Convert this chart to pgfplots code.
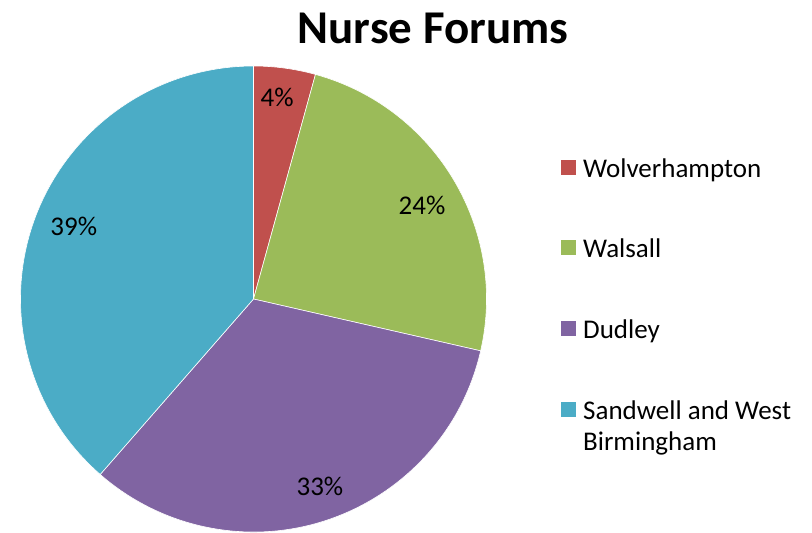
\documentclass[border=0pt]{standalone}
\usepackage{pgfplots}
\usepackage{pgfplotstable}
\pgfplotsset{compat=1.18}
\usetikzlibrary{calc}
\usepackage{fontspec}
\setmainfont{Carlito}

\definecolor{cWolv}{HTML}{C0504D}
\definecolor{cWals}{HTML}{9BBB59}
\definecolor{cDud}{HTML}{8064A2}
\definecolor{cSand}{HTML}{4BACC6}

\pgfplotstableread{
label count
Wolverhampton 3
Walsall 17
Dudley 23
Sandwell 27
}\piedata

\begin{document}
\begin{tikzpicture}
\pgfplotstablegetelem{0}{count}\of\piedata \let\cA\pgfplotsretval
\pgfplotstablegetelem{1}{count}\of\piedata \let\cB\pgfplotsretval
\pgfplotstablegetelem{2}{count}\of\piedata \let\cC\pgfplotsretval
\pgfplotstablegetelem{3}{count}\of\piedata \let\cD\pgfplotsretval
\pgfmathsetmacro\tot{\cA+\cB+\cC+\cD}
\pgfmathsetmacro\aA{90}
\pgfmathsetmacro\aB{\aA-360*\cA/\tot}
\pgfmathsetmacro\aC{\aB-360*\cB/\tot}
\pgfmathsetmacro\aD{\aC-360*\cC/\tot}
\pgfmathsetmacro\aE{\aD-360*\cD/\tot}
\pgfmathtruncatemacro\pA{round(100*\cA/\tot)}
\pgfmathtruncatemacro\pB{round(100*\cB/\tot)}
\pgfmathtruncatemacro\pC{round(100*\cC/\tot)}
\pgfmathtruncatemacro\pD{round(100*\cD/\tot)}
\pgfmathsetmacro\mA{(\aA+\aB)/2+1}
\pgfmathsetmacro\mB{(\aB+\aC)/2-1.7}
\pgfmathsetmacro\mC{(\aC+\aD)/2+1.5}
\pgfmathsetmacro\mD{(\aD+\aE)/2-1.5}
\begin{axis}[
  name=ax,
  width=812pt, height=533pt, scale only axis,
  xmin=0, xmax=812, ymin=0, ymax=533,
  hide axis, clip=false,
]
\def\cx{253.5}\def\cy{234}
\fill[cWolv, draw=white, line width=0.6pt] (axis cs:\cx,\cy) -- ++(\aA:233pt) arc[start angle=\aA, end angle=\aB, radius=233pt] -- cycle;
\fill[cWals, draw=white, line width=0.6pt] (axis cs:\cx,\cy) -- ++(\aB:233pt) arc[start angle=\aB, end angle=\aC, radius=233pt] -- cycle;
\fill[cDud, draw=white, line width=0.6pt] (axis cs:\cx,\cy) -- ++(\aC:233pt) arc[start angle=\aC, end angle=\aD, radius=233pt] -- cycle;
\fill[cSand, draw=white, line width=0.6pt] (axis cs:\cx,\cy) -- ++(\aD:233pt) arc[start angle=\aD, end angle=\aE, radius=233pt] -- cycle;

\node[font=\fontsize{27}{32}\selectfont] at ($(axis cs:\cx,\cy)+(\mA:203pt)$) {\pA\%};
\node[font=\fontsize{27}{32}\selectfont] at ($(axis cs:\cx,\cy)+(\mB:193pt)$) {\pB\%};
\node[font=\fontsize{27}{32}\selectfont] at ($(axis cs:\cx,\cy)+(\mC:199pt)$) {\pC\%};
\node[font=\fontsize{27}{32}\selectfont] at ($(axis cs:\cx,\cy)+(\mD:194pt)$) {\pD\%};

\node[font=\fontsize{47}{56}\selectfont\bfseries] at (axis cs:433,505) {Nurse Forums};

\fill[cWolv] (axis cs:561,358) rectangle (axis cs:576,373);
\fill[cWals] (axis cs:561,278) rectangle (axis cs:576,293);
\fill[cDud]  (axis cs:561,197) rectangle (axis cs:576,212);
\fill[cSand] (axis cs:561,116) rectangle (axis cs:576,131);
\node[anchor=base west, inner sep=0pt, font=\fontsize{27}{32}\selectfont] at (axis cs:583,355) {Wolverhampton};
\node[anchor=base west, inner sep=0pt, font=\fontsize{27}{32}\selectfont] at (axis cs:583,275) {Walsall};
\node[anchor=base west, inner sep=0pt, font=\fontsize{27}{32}\selectfont] at (axis cs:583,194) {Dudley};
\node[anchor=base west, inner sep=0pt, font=\fontsize{27}{32}\selectfont] at (axis cs:583,113) {Sandwell and West};
\node[anchor=base west, inner sep=0pt, font=\fontsize{27}{32}\selectfont] at (axis cs:583,82) {Birmingham};
\end{axis}
\pgfresetboundingbox
\path (ax.south west) rectangle (ax.north east);
\end{tikzpicture}
\end{document}
